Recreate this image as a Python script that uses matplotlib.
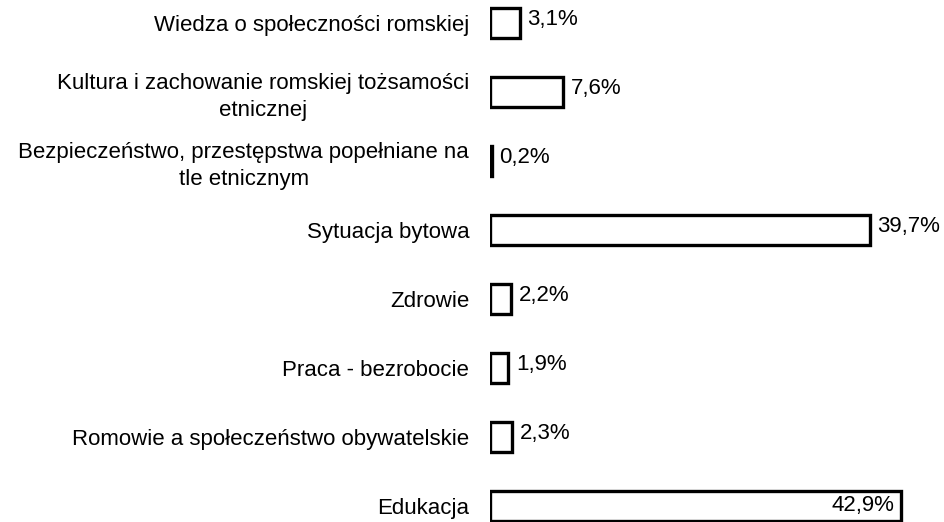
import matplotlib.pyplot as plt

plt.rcParams['font.family'] = ['Liberation Sans', 'DejaVu Sans']

# Tematy i udział procentowy
categories = [
    'Wiedza o społeczności romskiej',
    'Kultura i zachowanie romskiej tożsamości\netnicznej',
    'Bezpieczeństwo, przestępstwa popełniane na\ntle etnicznym',
    'Sytuacja bytowa',
    'Zdrowie',
    'Praca - bezrobocie',
    'Romowie a społeczeństwo obywatelskie',
    'Edukacja',
]
values = [3.1, 7.6, 0.2, 39.7, 2.2, 1.9, 2.3, 42.9]
value_labels = ['3,1%', '7,6%', '0,2%', '39,7%', '2,2%', '1,9%', '2,3%', '42,9%']

W, H = 945, 522
fig = plt.figure(figsize=(W / 100, H / 100), dpi=100)

# oś zaczyna się od x=490 px, 9.57 px na 1%
x0 = 490
px_per_pct = 9.57
ax = fig.add_axes([x0 / W, 0, 1 - x0 / W, 1])
ax.set_xlim(0, (W - x0) / px_per_pct)

step = 69.0
top = 23.0
ax.set_ylim((H - top) / step, -top / step)

fs = 16

pos = list(range(len(categories)))
ax.barh(pos, values, height=0.43, color='white', edgecolor='black', linewidth=2.4)

for i, (v, lab) in enumerate(zip(values, value_labels)):
    if v == max(values):
        ax.text(v - 0.6, i, lab, ha='right', va='center', fontsize=fs)
    else:
        ax.text(v + 0.8, i - 0.05, lab, ha='left', va='center', fontsize=fs)

ax.set_yticks(pos)
ax.set_yticklabels(categories, fontsize=fs)
plt.setp(ax.get_yticklabels(), multialignment='center', linespacing=1.35)
ax.tick_params(axis='y', length=0, pad=15)
ax.set_xticks([])
for s in ax.spines.values():
    s.set_visible(False)

fig.savefig('out.png', dpi=100, facecolor='white')
